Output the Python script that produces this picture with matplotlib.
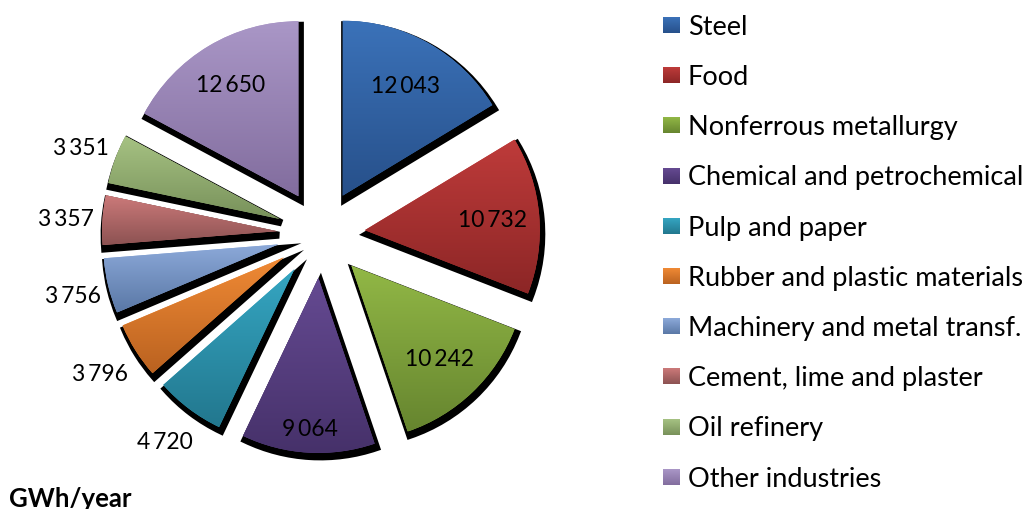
import numpy as np
import matplotlib
matplotlib.use('Agg')
import matplotlib.pyplot as plt
from matplotlib.colors import LinearSegmentedColormap

categories = ['Steel', 'Food', 'Nonferrous metallurgy', 'Chemical and petrochemical',
              'Pulp and paper', 'Rubber and plastic materials',
              'Machinery and metal transf.', 'Cement, lime and plaster',
              'Oil refinery', 'Other industries']
values = [12043, 10732, 10242, 9064, 4720, 3796, 3756, 3357, 3351, 12650]

# gradient colours of each slice (top -> bottom)
top_colors = ['#3B72B9', '#BE3B3A', '#92B846', '#654A92', '#35A6C2',
              '#F08A35', '#8DAADA', '#CC7A7A', '#A6C283', '#AA97C7']
bottom_colors = ['#27508A', '#8C2626', '#66852F', '#46316A', '#22778E',
                 '#BA6220', '#5A78A6', '#8C5252', '#78915A', '#826D9E']

plt.rcParams['font.family'] = ['Lato', 'DejaVu Sans']

W, H = 1032, 509
fig = plt.figure(figsize=(W / 100, H / 100), dpi=100)
ax = fig.add_axes([0, 0, 1, 1])

cx, cy = 321, H - 234   # pie centre (pixels)
R = 175                 # radius
gap = 44                # explode distance
n = len(values)

# black drop shadow
ax.pie(values, explode=[gap] * n, startangle=90, counterclock=False, radius=R,
       center=(cx + 2, cy - 4), colors=['black'] * n,
       wedgeprops=dict(linewidth=5, edgecolor='black'))

wedges, _ = ax.pie(values, explode=[gap] * n, startangle=90, counterclock=False,
                   radius=R, center=(cx, cy), colors=top_colors,
                   wedgeprops=dict(linewidth=0))

grad = np.linspace(1, 0, 256).reshape(-1, 1)


def gradient_fill(patch, extent, c_top, c_bot):
    cmap = LinearSegmentedColormap.from_list('g', [c_bot, c_top])
    im = ax.imshow(grad, cmap=cmap, extent=extent, aspect='auto',
                   interpolation='bilinear', zorder=1.5)
    im.set_clip_path(patch)


for w, ct, cb in zip(wedges, top_colors, bottom_colors):
    ext = w.get_patch_transform().transform_path(w.get_path()).get_extents()
    gradient_fill(w, [ext.x0, ext.x1, ext.y0, ext.y1], ct, cb)

# value labels
label_dist = [0.73, 0.73, 0.73, 0.86, 1.23, 1.24, 1.21, 1.21, 1.21, 0.75]
fs_lab = 16.5
cap_lab = 0.7165 * fs_lab * 100 / 72
for w, v, f in zip(wedges, values, label_dist):
    mid = np.deg2rad((w.theta1 + w.theta2) / 2)
    x = w.center[0] + f * R * np.cos(mid)
    y = w.center[1] + f * R * np.sin(mid)
    ax.text(x, y - cap_lab / 2, f'{v:,}'.replace(',', '\u2009'), ha='center',
            va='baseline', fontsize=fs_lab, color='black', zorder=3)

# legend
fs_leg = 19.5
cap_leg = 0.7165 * fs_leg * 100 / 72
for i, (name, ct, cb) in enumerate(zip(categories, top_colors, bottom_colors)):
    yc = H - (25 + 50.2 * i)
    sq = plt.Rectangle((663, yc - 8), 17, 16, facecolor=ct, linewidth=0)
    ax.add_patch(sq)
    gradient_fill(sq, [663, 680, yc - 8, yc + 8], ct, cb)
    ax.text(688, yc - cap_leg / 2, name, ha='left', va='baseline',
            fontsize=fs_leg, color='black')

ax.text(9, 2, 'GWh/year', ha='left', va='baseline', fontsize=18.5,
        fontweight='bold', color='black')

ax.set_xlim(0, W)
ax.set_ylim(0, H)
ax.set_aspect('auto')
ax.axis('off')

fig.savefig('out.png', dpi=100, facecolor='white')
